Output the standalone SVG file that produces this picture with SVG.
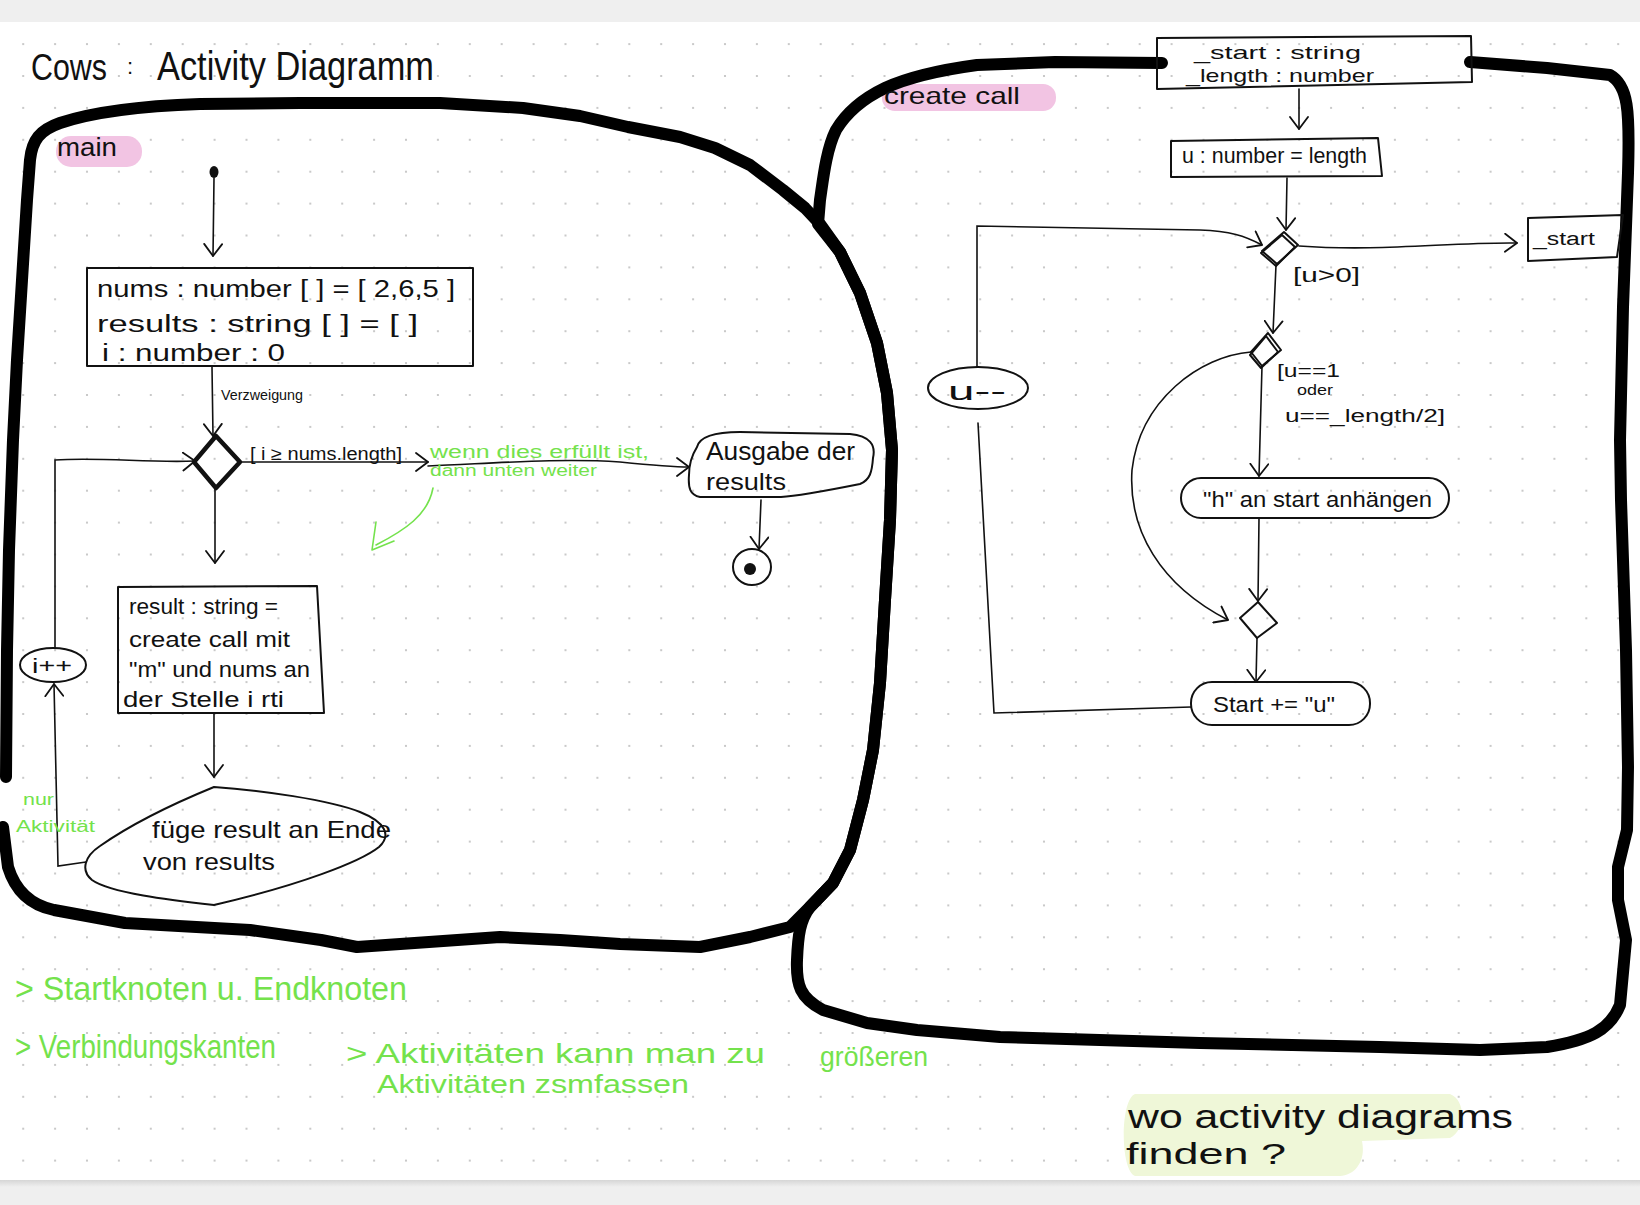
<svg xmlns="http://www.w3.org/2000/svg" width="1640" height="1205" viewBox="0 0 1640 1205">
<defs>
<pattern id="dots" patternUnits="userSpaceOnUse" x="7.25" y="-3.75" width="31.9" height="31.9"><circle cx="15.95" cy="15.95" r="1.1" fill="#bcbcbc"/></pattern>
<linearGradient id="shadow" x1="0" y1="0" x2="0" y2="1"><stop offset="0" stop-color="#d6d6d6"/><stop offset="1" stop-color="#efefef"/></linearGradient>
<marker id="v" viewBox="0 0 14 20" refX="13" refY="10" markerWidth="14" markerHeight="20" markerUnits="userSpaceOnUse" orient="auto"><path d="M1,1 L13,10 L1,19" fill="none" stroke="#111" stroke-width="1.8" stroke-linejoin="round" stroke-linecap="round"/></marker>
<style>
.lane{fill:none;stroke:#000;stroke-width:12;stroke-linejoin:round;stroke-linecap:round}
.shape{fill:none;stroke:#111;stroke-width:2;stroke-linejoin:round}
.conn{fill:none;stroke:#111;stroke-width:1.6;marker-end:url(#v);stroke-linecap:round}
.plain{fill:none;stroke:#111;stroke-width:1.6;stroke-linecap:round}
text{font-family:"Liberation Sans",Arial,sans-serif;fill:#111}
.g{fill:#74e24c}
.gl{fill:none;stroke:#74e24c;stroke-width:1.6;stroke-linecap:round;stroke-linejoin:round}
.pink{fill:#f2c4e3}
</style>
</defs>

<rect width="1640" height="1205" fill="#efefef"/>
<rect x="0" y="22" width="1640" height="1158" fill="#fff"/>
<rect x="0" y="22" width="1640" height="1158" fill="url(#dots)"/>
<rect x="0" y="1180" width="1640" height="7" fill="url(#shadow)"/>

<!-- highlights -->
<rect class="pink" x="56" y="136" width="86" height="31" rx="15"/>
<rect class="pink" x="882" y="84" width="174" height="27" rx="13"/>
<path d="M1135,1094 L1450,1094 C1466,1100 1466,1130 1450,1138 L1362,1141 C1366,1160 1356,1175 1340,1176 L1135,1176 C1120,1170 1120,1100 1135,1094 Z" fill="#eff7d8"/>

<!-- swimlane outlines -->
<g id="lane-main">
<path class="lane" d="M6,777 L7,650 L9,550 L13,440 L17,360 L22,280 L27,200 L30,160 C32,140 40,130 60,123 C90,113 140,106 200,104 L300,103 L440,103 L523,108 L580,116 L628,127 L680,137 L715,148 L750,165 L783,190 L805,208 L820,224 L840,252 L860,293 L877,343 L887,393 L892,450 L890,520 L885,600 L880,683 L873,750 L863,800 L850,850 L833,883 L810,907 L790,927 L750,937 L700,947 L620,944 L560,940 L500,937 L429,942 L357,947 L321,940 L250,930 L125,923 L54,910 C30,905 15,890 8,867 L3,827"/>
</g>
<g id="lane-create">
<path class="lane" d="M1162,63 L1055,62 L977,65 C940,70 909,77 885,88 C860,100 845,115 836,130 C826,150 823,180 820,200 L818,224 L840,252 L860,293 L877,343 L887,393 L892,450 L890,520 L885,600 L880,683 L873,750 L863,800 L850,850 L833,883 L810,907 C800,920 798,935 797,960 C796,985 800,998 823,1010 L867,1023 L917,1030 L1000,1037 L1200,1043 L1380,1047 L1480,1050 L1547,1047 C1590,1040 1610,1030 1620,1005 L1626,940 L1618,900 L1618,867 L1627,830 L1628,767 L1626,650 L1621,500 L1620,440 L1623,307 L1628,173 C1630,110 1628,85 1610,75 L1547,68 L1470,62"/>
</g>

<!-- title and labels -->
<g id="title">
<text x="31" y="80" font-size="37" textLength="76" lengthAdjust="spacingAndGlyphs">Cows</text>
<text x="127" y="74" font-size="22">:</text>
<text x="157" y="80" font-size="40" textLength="277" lengthAdjust="spacingAndGlyphs">Activity Diagramm</text>
</g>
<g id="label-main"><text x="57" y="156" font-size="26" textLength="60" lengthAdjust="spacingAndGlyphs">main</text></g>
<g id="label-create"><text x="884" y="104" font-size="24" textLength="136" lengthAdjust="spacingAndGlyphs">create call</text></g>

<!-- connectors -->
<g id="connectors">
<path class="conn" d="M214,178 L213,256"/>
<path class="conn" d="M212,367 L213,436"/>
<path class="conn" d="M240,462 L428,462"/>
<path class="conn" d="M428,466 C500,463 560,458 620,462 C650,465 670,467 689,467"/>
<path class="conn" d="M761,500 L759,549"/>
<path class="conn" d="M215,488 L215,563"/>
<path class="conn" d="M214,713 L214,777"/>
<path class="conn" d="M86,862 L58,866 L54,684"/>
<path class="conn" d="M55,648 L55,460 C100,457 150,463 195,461"/>
<path class="conn" d="M1299,89 L1299,129"/>
<path class="conn" d="M1287,178 L1286,230"/>
<path class="conn" d="M1299,246 C1380,252 1450,242 1517,243"/>
<path class="conn" d="M1276,265 L1273,333"/>
<path class="conn" d="M1262,366 L1259,476"/>
<path class="conn" d="M1251,352 C1200,356 1140,400 1132,470 C1128,530 1160,585 1228,620"/>
<path class="conn" d="M1259,518 L1258,601"/>
<path class="conn" d="M1257,638 L1256,682"/>
<path class="plain" d="M1191,707 L994,713 L978,423"/>
<path class="conn" d="M977,367 L977,226 L1200,230 C1230,231 1245,236 1262,245"/>
</g>

<!-- main activity nodes -->
<g id="start-main"><ellipse cx="214" cy="172" rx="4.5" ry="6" fill="#111"/></g>
<g id="init-box">
<rect class="shape" x="87" y="268" width="386" height="98"/>
<text x="97" y="297" font-size="23" textLength="358" lengthAdjust="spacingAndGlyphs">nums : number [ ] = [ 2,6,5 ]</text>
<text x="97" y="332" font-size="23" textLength="321" lengthAdjust="spacingAndGlyphs">results : string  [ ]  =  [  ]</text>
<text x="102" y="361" font-size="23" textLength="183" lengthAdjust="spacingAndGlyphs">i : number : 0</text>
</g>
<g id="label-verzweigung"><text x="221" y="400" font-size="15" textLength="82" lengthAdjust="spacingAndGlyphs">Verzweigung</text></g>
<g id="decision-main">
<path d="M216,436 L240,462 L216,488 L194,462 Z" fill="none" stroke="#111" stroke-width="4.5" stroke-linejoin="round"/>
<text x="250" y="460" font-size="18" textLength="152" lengthAdjust="spacingAndGlyphs">[ i ≥ nums.length]</text>
</g>
<g id="note-weiter">
<text class="g" x="430" y="458" font-size="18" textLength="219" lengthAdjust="spacingAndGlyphs">wenn dies erfüllt ist,</text>
<text class="g" x="430" y="476" font-size="16" textLength="167" lengthAdjust="spacingAndGlyphs">dann unten weiter</text>
<path class="gl" d="M433,488 C428,515 405,530 376,545"/>
<path class="gl" d="M376,522 L372,550 L394,541"/>
</g>
<g id="output-results">
<path class="shape" d="M697,447 C700,435 720,432 740,432 L850,434 C870,436 876,445 873,458 C872,472 870,480 860,484 C830,490 800,496 781,497 L700,497 C690,495 688,488 689,475 C689,465 692,455 697,447 Z"/>
<text x="706" y="460" font-size="26" textLength="149" lengthAdjust="spacingAndGlyphs">Ausgabe der</text>
<text x="706" y="490" font-size="24" textLength="80" lengthAdjust="spacingAndGlyphs">results</text>
</g>
<g id="end-main">
<ellipse class="shape" cx="752" cy="567" rx="19" ry="18"/>
<circle cx="750" cy="569" r="6" fill="#111"/>
</g>
<g id="create-call-box">
<path class="shape" d="M118,587 L317,586 L324,713 L118,713 Z"/>
<text x="129" y="614" font-size="22" textLength="149" lengthAdjust="spacingAndGlyphs">result : string =</text>
<text x="129" y="647" font-size="22" textLength="161" lengthAdjust="spacingAndGlyphs">create call mit</text>
<text x="129" y="677" font-size="22" textLength="181" lengthAdjust="spacingAndGlyphs">"m" und nums an</text>
<text x="123" y="707" font-size="22" textLength="161" lengthAdjust="spacingAndGlyphs">der Stelle i  rti</text>
</g>
<g id="append-result">
<path class="shape" d="M214,787 C260,790 330,800 360,812 C385,822 392,835 379,847 C360,862 300,885 214,905 C170,900 110,893 92,880 C80,870 85,856 100,846 C130,825 170,805 214,787 Z"/>
<text x="152" y="838" font-size="24" textLength="239" lengthAdjust="spacingAndGlyphs">füge result an Ende</text>
<text x="143" y="870" font-size="24" textLength="132" lengthAdjust="spacingAndGlyphs">von results</text>
</g>
<g id="increment">
<ellipse class="shape" cx="53" cy="665" rx="33" ry="17"/>
<text x="32" y="673" font-size="20" textLength="40" lengthAdjust="spacingAndGlyphs">i++</text>
</g>
<g id="note-aktivitaet">
<text class="g" x="23" y="805" font-size="16" textLength="31" lengthAdjust="spacingAndGlyphs">nur</text>
<text class="g" x="16" y="832" font-size="16" textLength="79" lengthAdjust="spacingAndGlyphs">Aktivität</text>
</g>

<!-- create call nodes -->
<g id="params">
<path class="shape" d="M1157,38 L1471,36 L1472,82 L1157,89 Z"/>
<text x="1194" y="59" font-size="19" textLength="167" lengthAdjust="spacingAndGlyphs">_start : string</text>
<text x="1186" y="82" font-size="19" textLength="188" lengthAdjust="spacingAndGlyphs">_length : number</text>
</g>
<g id="init-u">
<path class="shape" d="M1171,141 L1378,138 L1382,176 L1171,177 Z"/>
<text x="1182" y="163" font-size="22" textLength="185" lengthAdjust="spacingAndGlyphs">u : number = length</text>
</g>
<g id="decision-loop">
<path class="shape" d="M1284,232 L1298,245 L1277,264 L1262,251 Z"/>
<path class="shape" d="M1282,235 L1295,247 L1276,266 L1261,253 Z" stroke-width="1.4"/>
<text x="1293" y="282" font-size="20" textLength="67" lengthAdjust="spacingAndGlyphs">[u&gt;0]</text>
</g>
<g id="output-start">
<path class="shape" d="M1528,218 L1623,215 L1617,257 L1528,261 Z"/>
<text x="1533" y="245" font-size="18" textLength="62" lengthAdjust="spacingAndGlyphs">_start</text>
</g>
<g id="decision-h">
<path class="shape" d="M1268,333 L1281,350 L1262,366 L1251,352 Z"/>
<path class="shape" d="M1266,336 L1278,352 L1261,368 L1250,355 Z" stroke-width="1.4"/>
<text x="1277" y="377" font-size="18" textLength="63" lengthAdjust="spacingAndGlyphs">[u==1</text>
<text x="1297" y="395" font-size="15" textLength="36" lengthAdjust="spacingAndGlyphs">oder</text>
<text x="1285" y="422" font-size="18" textLength="160" lengthAdjust="spacingAndGlyphs">u==_length/2]</text>
</g>
<g id="append-h">
<rect class="shape" x="1181" y="478" width="268" height="40" rx="20"/>
<text x="1203" y="507" font-size="22" textLength="229" lengthAdjust="spacingAndGlyphs">"h" an start anhängen</text>
</g>
<g id="merge">
<path class="shape" d="M1258,602 L1277,623 L1257,638 L1240,618 Z" stroke-width="1.6"/>
</g>
<g id="append-u">
<rect class="shape" x="1191" y="682" width="179" height="43" rx="21"/>
<text x="1213" y="712" font-size="22" textLength="122" lengthAdjust="spacingAndGlyphs">Start += "u"</text>
</g>
<g id="decrement">
<ellipse class="shape" cx="978" cy="388" rx="50" ry="21"/>
<text x="948" y="400" font-size="26" textLength="58" lengthAdjust="spacingAndGlyphs">u--</text>
</g>

<!-- notes -->
<g id="notes">
<text class="g" x="15" y="1000" font-size="34" textLength="392" lengthAdjust="spacingAndGlyphs">&gt; Startknoten u. Endknoten</text>
<text class="g" x="15" y="1058" font-size="34" textLength="261" lengthAdjust="spacingAndGlyphs">&gt; Verbindungskanten</text>
<text class="g" x="346" y="1063" font-size="28" textLength="419" lengthAdjust="spacingAndGlyphs">&gt; Aktivitäten  kann  man  zu</text>
<text class="g" x="820" y="1066" font-size="28" textLength="108" lengthAdjust="spacingAndGlyphs">größeren</text>
<text class="g" x="377" y="1093" font-size="26" textLength="312" lengthAdjust="spacingAndGlyphs">Aktivitäten  zsmfassen</text>
</g>
<g id="question">
<text x="1128" y="1128" font-size="34" textLength="385" lengthAdjust="spacingAndGlyphs">wo activity diagrams</text>
<text x="1126" y="1164" font-size="30" textLength="160" lengthAdjust="spacingAndGlyphs">finden ?</text>
</g>
</svg>
